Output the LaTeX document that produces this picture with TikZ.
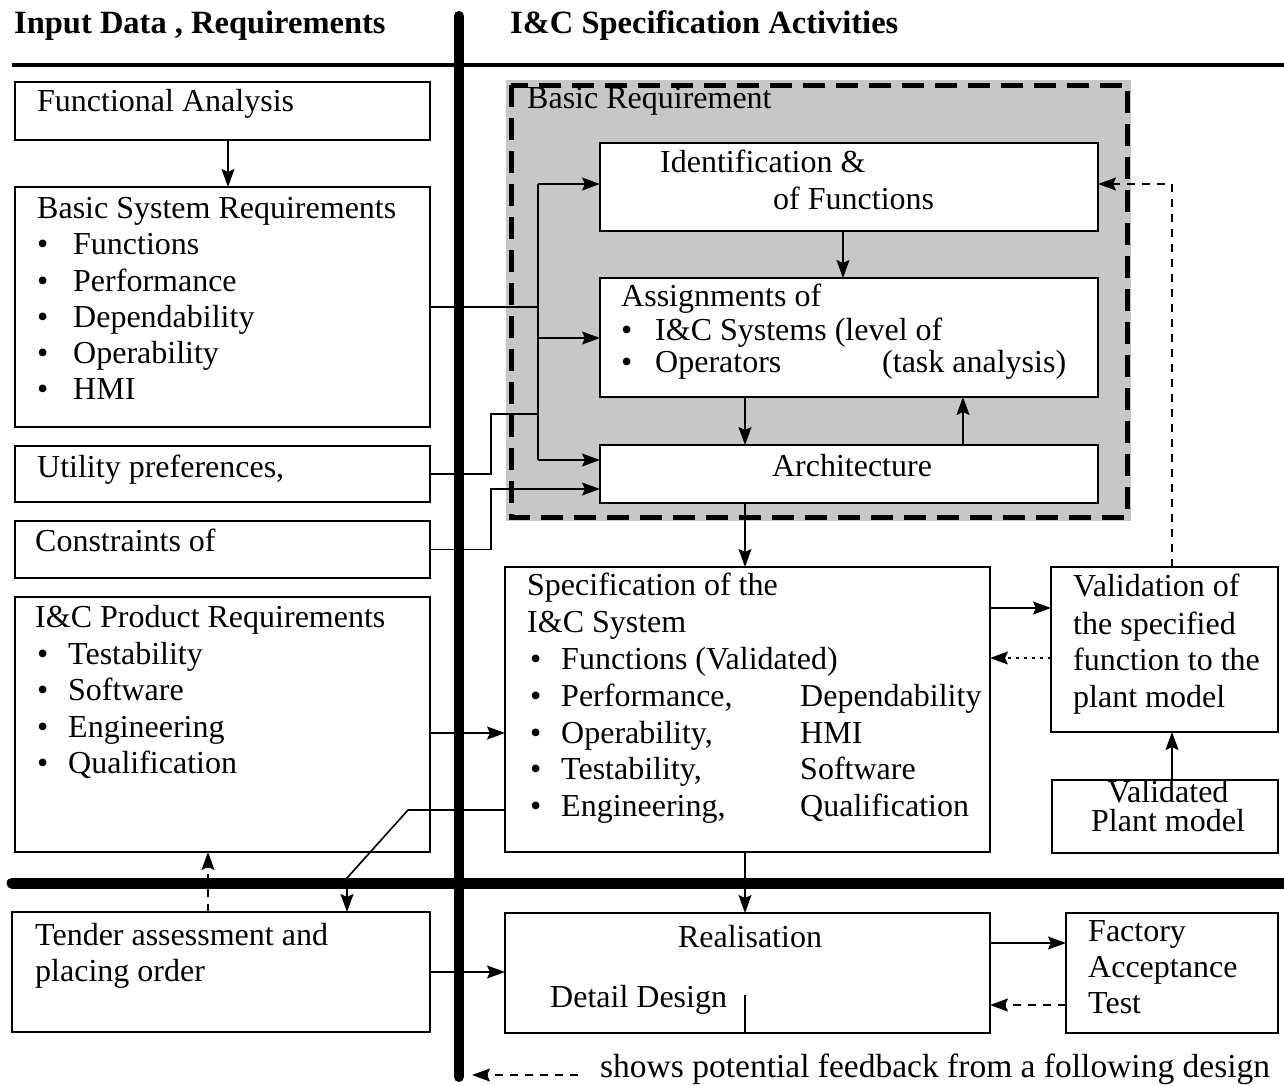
\documentclass[tikz,border=0pt]{standalone}
\usepackage{fontspec}
\setmainfont{Liberation Serif}
\usetikzlibrary{arrows.meta}
\newcommand\mybox[5]{\node[boxst, minimum width={#4-#2}, minimum height={#5-#3}] (#1) at ({(#2+#4)/2},{(#3+#5)/2}) {};}
\begin{document}
\begin{tikzpicture}[x=1pt,y=-1pt,
  boxst/.style={draw, line width=1.4pt, fill=white, inner sep=0pt, outer sep=0pt},
  tx/.style={anchor=base west, inner sep=0pt, font=\fontsize{32}{36}\selectfont},
  txc/.style={anchor=base, inner sep=0pt, font=\fontsize{32}{36}\selectfont},
  hd/.style={anchor=base west, inner sep=0pt, font=\fontsize{32.5}{36}\selectfont\bfseries},
  ln/.style={line width=1.6pt},
  conn/.style={line width=1.6pt, -{Stealth[length=18pt,width=13pt,inset=3pt]}},
  fb/.style={line width=1.4pt, dash pattern=on 8pt off 7pt, -{Stealth[length=18pt,width=13pt,inset=3pt]}},
  dt/.style={line width=1.4pt, dash pattern=on 3pt off 5pt, -{Stealth[length=18pt,width=13pt,inset=3pt]}}]
\useasboundingbox (0,0) rectangle (1284,1085);

% shaded basic requirement region
\fill[black!22] (506,80) rectangle (1131,521);
\draw[line width=5pt, dash pattern=on 22pt off 11pt] (511,85) rectangle (1127,517);
\node[tx] (brq) at (527,108) {Basic Requirement};

% boxes
\mybox{fa}{15}{82}{430}{140}
\mybox{bsr}{15}{187}{430}{427}
\mybox{util}{15}{446}{430}{502}
\mybox{cons}{15}{521}{430}{578}
\mybox{prod}{15}{597}{430}{852}
\mybox{tender}{12}{912}{430}{1032}
\mybox{ident}{600}{143}{1098}{231}
\mybox{assign}{600}{278}{1098}{397}
\mybox{arch}{600}{445}{1098}{503}
\mybox{spec}{505}{567}{990}{852}
\mybox{valid}{1051}{567}{1278}{732}
\mybox{plant}{1052}{780}{1278}{853}
\mybox{real}{505}{913}{990}{1033}
\mybox{fat}{1066}{913}{1278}{1033}

% headers
\node[hd] (h1) at (14,33) {Input Data , Requirements};
\node[hd] (h2) at (510,33) {I\&C Specification Activities};

% left texts
\node[tx] (t1) at (37,111) {Functional Analysis};
\node[tx] (t2) at (37,218) {Basic System Requirements};
\foreach \y/\t [count=\i] in {254/Functions,291/Performance,327/Dependability,363/Operability,399/HMI}{
  \node[tx] (bb\i) at (37,\y) {•};
  \node[tx] (bt\i) at (73,\y) {\t};
}
\node[tx] (t3) at (37,477) {Utility preferences,};
\node[tx] (t4) at (35,551) {Constraints of};
\node[tx] (t5) at (35,627) {I\&C Product Requirements};
\foreach \y/\t [count=\i] in {664/Testability,700/Software,737/Engineering,773/Qualification}{
  \node[tx] (pb\i) at (37,\y) {•};
  \node[tx] (pt\i) at (68,\y) {\t};
}
\node[tx] (t6) at (35,945) {Tender assessment and};
\node[tx] (t7) at (35,981) {placing order};

% right texts
\node[tx] (r1) at (660,172) {Identification \&};
\node[tx] (r2) at (773,209) {of Functions};
\node[tx] (r3) at (621,306) {Assignments of};
\node[tx] (r4) at (621,340) {•};
\node[tx] (r5) at (655,340) {I\&C Systems (level of};
\node[tx] (r6) at (621,372) {•};
\node[tx] (r7) at (655,372) {Operators};
\node[tx] (r8) at (882,372) {(task analysis)};
\node[txc] (r9) at (852,476) {Architecture};
\node[tx] (s1) at (527,595) {Specification of the};
\node[tx] (s2) at (527,632) {I\&C System};
\foreach \y/\a/\b [count=\i] in {669/Functions (Validated)/{},706/{Performance,}/Dependability,743/{Operability,}/HMI,779/{Testability,}/Software,816/{Engineering,}/Qualification}{
  \node[tx] (sb\i) at (530,\y) {•};
  \node[tx] (sa\i) at (561,\y) {\a};
  \node[tx] (sc\i) at (800,\y) {\b};
}
\node[tx] (v1) at (1073,596) {Validation of};
\node[tx] (v2) at (1073,634) {the specified};
\node[tx] (v3) at (1073,670) {function to the};
\node[tx] (v4) at (1073,707) {plant model};
\node[txc] (p1) at (1168,802) {Validated};
\node[txc] (p2) at (1168,831) {Plant model};
\node[txc] (re1) at (750,947) {Realisation};
\node[tx] (re2) at (550,1007) {Detail Design};
\node[tx] (f1) at (1088,941) {Factory};
\node[tx] (f2) at (1088,977) {Acceptance};
\node[tx] (f3) at (1088,1013) {Test};
\node[tx, font=\fontsize{33.5}{36}\selectfont] (lgt) at (600,1077) {shows potential feedback from a following design};

% coordinates
\coordinate (b1) at (538,184);
\coordinate (b2) at (538,338);
\coordinate (b3) at (538,460);
\coordinate (u1) at (491,414);
\coordinate (c1) at (491,489);
\coordinate (xa) at (745,0);
\coordinate (xb) at (963,0);
\coordinate (xf) at (1172,0);
\coordinate (ya) at (0,608);
\coordinate (yb) at (0,658);
\coordinate (yp) at (0,733);
\coordinate (ys) at (0,810);
\coordinate (k1) at (408,810);
\coordinate (k2) at (347,878);
\coordinate (xt) at (347,0);
\coordinate (xd) at (208,0);
\coordinate (yr) at (0,972);
\coordinate (yf1) at (0,943);
\coordinate (yf2) at (0,1005);
\coordinate (dd) at (745,995);
\coordinate (lg1) at (578,1075);
\coordinate (lg2) at (472,1075);

% connectors
\draw[conn] (fa.south -| 228,0) -- (bsr.north -| 228,0);
\draw[ln] (bsr.east) -- (bsr.east -| b1);
\draw[ln] (b1) -- (b3);
\draw[conn] (b1) -- (b1 -| ident.west);
\draw[conn] (b2) -- (b2 -| assign.west);
\draw[conn] (b3) -- (b3 -| arch.west);
\draw[ln] (util.east) -| (u1) -- (u1 -| b1);
\draw[conn] (cons.east) -| (c1) -- (c1 -| arch.west);
\draw[conn] (ident.south -| 843,0) -- (assign.north -| 843,0);
\draw[conn] (assign.south -| xa) -- (arch.north -| xa);
\draw[conn] (arch.north -| xb) -- (assign.south -| xb);
\draw[conn] (arch.south -| xa) -- (spec.north -| xa);
\draw[conn] (spec.east |- ya) -- (valid.west |- ya);
\draw[dt] (valid.west |- yb) -- (spec.east |- yb);
\draw[conn] (plant.north -| xf) -- (valid.south -| xf);
\draw[fb] (valid.north -| xf) |- (b1 -| ident.east);
\draw[conn] (prod.east |- yp) -- (spec.west |- yp);
\draw[conn] (spec.west |- ys) -- (k1) -- (k2) -- (tender.north -| xt);
\draw[fb] (tender.north -| xd) -- (prod.south -| xd);
\draw[conn] (tender.east |- yr) -- (real.west |- yr);
\draw[conn] (spec.south -| xa) -- (real.north -| xa);
\draw[conn] (real.east |- yf1) -- (fat.west |- yf1);
\draw[fb] (fat.west |- yf2) -- (real.east |- yf2);
\draw[line width=1.2pt] (dd) -- (real.south -| xa);
\draw[fb] (lg1) -- (lg2);

% thick separators
\draw[line width=4pt] (12,65) -- (1284,65);
\draw[line width=11pt, line cap=round] (12,883) -- (1284,883);
\draw[line width=10pt, line cap=round] (459,16) -- (459,1077);
\end{tikzpicture}
\end{document}
